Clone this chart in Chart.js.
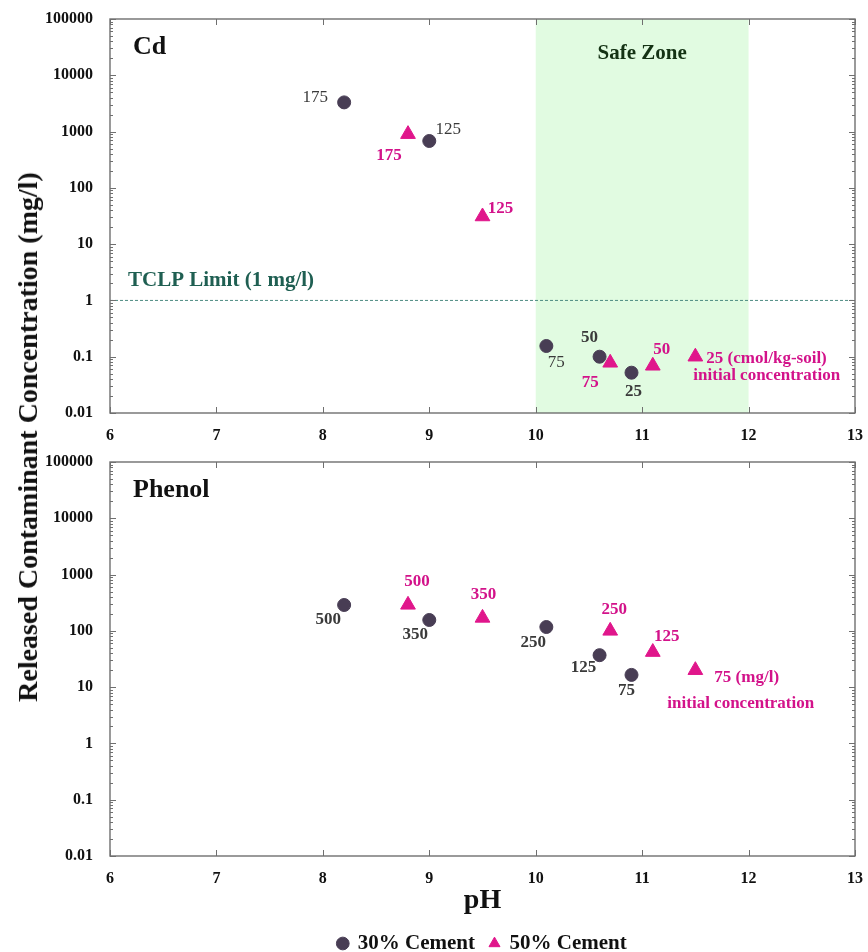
<!DOCTYPE html>
<html>
<head>
<meta charset="utf-8">
<script src="https://cdn.jsdelivr.net/npm/chart.js@4.4.0/dist/chart.umd.min.js"></script>
<style>
  body { margin: 0; background: #fff; width: 868px; height: 952px; position: relative; overflow: hidden; }
  #cdChart { position: absolute; left: 0; top: 0; }
  #phenolChart { position: absolute; left: 0; top: 440px; }
  #yTitle {
    position: absolute; left: 28px; top: 437px;
    transform: translate(-50%, -50%) rotate(-90deg);
    white-space: nowrap; font: bold 28px "Liberation Serif", serif; color: #111;
  }
</style>
</head>
<body>
<canvas id="cdChart" width="868" height="440"></canvas>
<canvas id="phenolChart" width="868" height="524"></canvas>
<div id="yTitle">Released Contaminant Concentration (mg/l)</div>
<script>
// values
const seriesNames = ['30% Cement', '50% Cement'];

const cdPh30 = [8.2, 9.0, 10.1, 10.6, 10.9];
const cdConc30 = [3300, 680, 0.155, 0.1, 0.052];
const cdPh50 = [8.8, 9.5, 10.7, 11.1, 11.5];
const cdConc50 = [900, 31, 0.078, 0.069, 0.1];
const cdInitial = ['175', '125', '75', '50', '25'];

const phenolPh30 = [8.2, 9.0, 10.1, 10.6, 10.9];
const phenolConc30 = [288, 156, 117, 37, 16.5];
const phenolPh50 = [8.8, 9.5, 10.7, 11.1, 11.5];
const phenolConc50 = [290, 170, 100, 42, 20];
const phenolInitial = ['500', '350', '250', '125', '75'];

const xTicks = [6, 7, 8, 9, 10, 11, 12, 13];
const yTicks = [0.01, 0.1, 1, 10, 100, 1000, 10000, 100000];
const safeZone = [10, 12];
const tclpLimit = 1;

const SERIF = '"Liberation Serif", "Times New Roman", serif';
const GRAY = '#483d54';
const MAGENTA = '#e0168b';
const GRAY_TXT = '#3a3a3a';
const MAGENTA_TXT = '#d3128a';

Chart.defaults.font.family = SERIF;

function points(xs, ys) {
  return xs.map((x, i) => ({ x: x, y: ys[i] }));
}

function text(ctx, s, x, y, font, color, align) {
  ctx.font = font;
  ctx.fillStyle = color;
  ctx.textAlign = align || 'center';
  ctx.textBaseline = 'middle';
  ctx.fillText(s, x, y);
}

const decor = {
  id: 'decor',
  beforeDraw(chart, args, o) {
    if (!o.safeZone) return;
    const { ctx, chartArea: a, scales: { x } } = chart;
    const x0 = x.getPixelForValue(safeZone[0]);
    const x1 = x.getPixelForValue(safeZone[1]);
    ctx.save();
    ctx.fillStyle = '#e1fbe1';
    ctx.fillRect(x0, a.top, x1 - x0, a.bottom - a.top);
    ctx.restore();
  },
  beforeDatasetsDraw(chart, args, o) {
    const { ctx, chartArea: a, scales: { x, y } } = chart;
    ctx.save();
    if (o.tclp) {
      const py = y.getPixelForValue(tclpLimit);
      ctx.strokeStyle = '#4d8c82';
      ctx.lineWidth = 1;
      ctx.setLineDash([3, 2]);
      ctx.beginPath();
      ctx.moveTo(a.left, py);
      ctx.lineTo(a.right, py);
      ctx.stroke();
      ctx.setLineDash([]);
    }
    // frame and inward ticks
    ctx.strokeStyle = '#6f6f6f';
    ctx.lineWidth = 1.4;
    ctx.strokeRect(a.left, a.top, a.right - a.left, a.bottom - a.top);
    ctx.lineWidth = 1;
    ctx.beginPath();
    xTicks.forEach(v => {
      const px = Math.round(x.getPixelForValue(v)) + 0.5;
      ctx.moveTo(px, a.bottom); ctx.lineTo(px, a.bottom - 6);
      ctx.moveTo(px, a.top); ctx.lineTo(px, a.top + 6);
    });
    yTicks.forEach((v, k) => {
      const py = Math.round(y.getPixelForValue(v)) + 0.5;
      ctx.moveTo(a.left, py); ctx.lineTo(a.left + 6, py);
      ctx.moveTo(a.right, py); ctx.lineTo(a.right - 6, py);
      if (k === yTicks.length - 1) return;
      for (let m = 2; m < 10; m++) {
        const pm = Math.round(y.getPixelForValue(v * m)) + 0.5;
        ctx.moveTo(a.left, pm); ctx.lineTo(a.left + 3, pm);
        ctx.moveTo(a.right, pm); ctx.lineTo(a.right - 3, pm);
      }
    });
    ctx.stroke();
    ctx.restore();
  },
  afterDatasetsDraw(chart, args, o) {
    const { ctx, chartArea: a, scales: { x, y } } = chart;
    ctx.save();
    text(ctx, o.title, a.left + 23, a.top + 28, 'bold 26px ' + SERIF, '#111', 'left');
    if (o.safeZone) {
      text(ctx, 'Safe Zone', x.getPixelForValue((safeZone[0] + safeZone[1]) / 2), a.top + 35, 'bold 21px ' + SERIF, '#143214');
    }
    if (o.tclp) {
      text(ctx, 'TCLP Limit (1 mg/l)', a.left + 18, y.getPixelForValue(tclpLimit) - 20, 'bold 21px ' + SERIF, '#1f5f52', 'left');
    }
    o.notes.forEach(n => {
      const el = chart.getDatasetMeta(n.ds).data[n.i];
      const s = n.text || (o.initial[n.i] + (n.suffix || ''));
      const bold = n.ds === 1 || n.bold;
      text(ctx, s, el.x + n.dx, el.y + n.dy, (bold ? 'bold ' : '') + '17px ' + SERIF,
        n.ds === 1 ? MAGENTA_TXT : GRAY_TXT, n.align);
    });
    ctx.restore();
  }
};

function makePanel(canvas, ph30, conc30, ph50, conc50, bottom, decorOpts) {
  return new Chart(canvas, {
    type: 'scatter',
    data: {
      datasets: [
        {
          label: seriesNames[0], data: points(ph30, conc30),
          pointStyle: 'circle', pointRadius: 6.5, pointHoverRadius: 6.5,
          backgroundColor: GRAY, borderColor: GRAY, borderWidth: 1
        },
        {
          label: seriesNames[1], data: points(ph50, conc50),
          pointStyle: 'triangle', pointRadius: 8.5, pointHoverRadius: 8.5,
          backgroundColor: MAGENTA, borderColor: MAGENTA, borderWidth: 1
        }
      ]
    },
    options: {
      responsive: false,
      animation: false,
      devicePixelRatio: 1,
      layout: { padding: { top: bottom ? 22 : 19, right: 10, left: 0, bottom: 0 } },
      scales: {
        x: {
          type: 'linear', min: 6, max: 13,
          grid: { display: false }, border: { display: false },
          afterBuildTicks: s => { s.ticks = xTicks.map(v => ({ value: v })); },
          afterFit: s => { s.height = bottom ? 62 : 27; },
          ticks: { color: '#111', font: { size: 16, weight: 'bold' }, padding: 5, maxRotation: 0, autoSkip: false },
          title: {
            display: bottom, text: 'pH', color: '#111',
            font: { size: 28, weight: 'bold' }, padding: { top: 0, bottom: 0 }
          }
        },
        y: {
          type: 'logarithmic', min: 0.01, max: 100000,
          grid: { display: false }, border: { display: false },
          afterBuildTicks: s => { s.ticks = yTicks.map(v => ({ value: v })); },
          afterFit: s => { s.width = 110; },
          ticks: { color: '#111', font: { size: 16, weight: 'bold' }, padding: 9, callback: v => String(v) }
        }
      },
      plugins: {
        legend: {
          display: bottom, position: 'bottom', fullSize: false,
          labels: {
            usePointStyle: true, boxWidth: 9, boxHeight: 9, padding: 15,
            color: '#111', font: { size: 21, weight: 'bold' }
          }
        },
        tooltip: { enabled: false },
        decor: decorOpts
      }
    },
    plugins: [decor]
  });
}

makePanel(document.getElementById('cdChart'), cdPh30, cdConc30, cdPh50, cdConc50, false, {
  title: 'Cd', safeZone: true, tclp: true, initial: cdInitial,
  notes: [
    { ds: 0, i: 0, dx: -29, dy: -5 },
    { ds: 0, i: 1, dx: 19, dy: -11 },
    { ds: 0, i: 2, dx: 10, dy: 17 },
    { ds: 0, i: 3, dx: -10, dy: -19, bold: true },
    { ds: 0, i: 4, dx: 2, dy: 19, bold: true },
    { ds: 1, i: 0, dx: -19, dy: 21 },
    { ds: 1, i: 1, dx: 18, dy: -8 },
    { ds: 1, i: 2, dx: -20, dy: 20 },
    { ds: 1, i: 3, dx: 9, dy: -16 },
    { ds: 1, i: 4, dx: 11, dy: 2, align: 'left', suffix: ' (cmol/kg-soil)' },
    { ds: 1, i: 4, dx: -2, dy: 19, align: 'left', text: 'initial concentration' }
  ]
});

makePanel(document.getElementById('phenolChart'), phenolPh30, phenolConc30, phenolPh50, phenolConc50, true, {
  title: 'Phenol', safeZone: false, tclp: false, initial: phenolInitial,
  notes: [
    { ds: 0, i: 0, dx: -16, dy: 15, bold: true },
    { ds: 0, i: 1, dx: -14, dy: 15, bold: true },
    { ds: 0, i: 2, dx: -13, dy: 16, bold: true },
    { ds: 0, i: 3, dx: -16, dy: 12, bold: true },
    { ds: 0, i: 4, dx: -5, dy: 16, bold: true },
    { ds: 1, i: 0, dx: 9, dy: -23 },
    { ds: 1, i: 1, dx: 1, dy: -23 },
    { ds: 1, i: 2, dx: 4, dy: -21 },
    { ds: 1, i: 3, dx: 14, dy: -15 },
    { ds: 1, i: 4, dx: 19, dy: 7, align: 'left', suffix: ' (mg/l)' },
    { ds: 1, i: 4, dx: -28, dy: 33, align: 'left', text: 'initial concentration' }
  ]
});
</script>
</body>
</html>
